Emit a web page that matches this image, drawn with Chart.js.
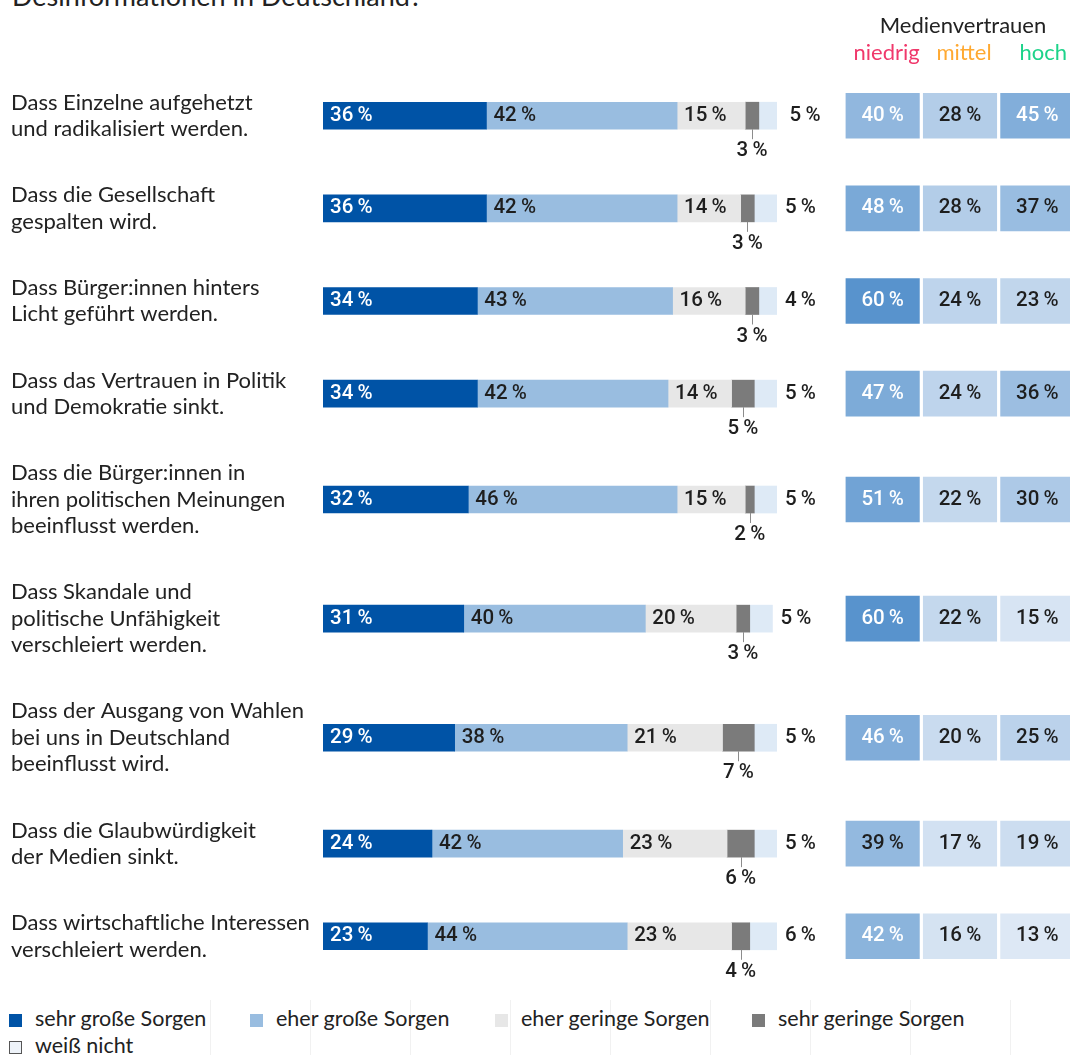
<!DOCTYPE html>
<html lang="de">
<head>
<meta charset="utf-8">
<script src="https://cdn.jsdelivr.net/npm/chart.js@4.4.1/dist/chart.umd.min.js"></script>
<style>
  html, body { margin: 0; padding: 0; background: #fff; }
  body { width: 1070px; height: 1055px; position: relative; overflow: hidden; font-family: Lato, 'Open Sans', sans-serif; color: #222; }
  #title { position: absolute; left: 12px; top: -20px; font-size: 27px; line-height: 32px; white-space: nowrap; }
  #wrapBars { position: absolute; left: 0; top: 0; width: 840px; height: 1000px; }
  #wrapTable { position: absolute; left: 844px; top: 0; width: 232px; height: 1000px; }
  .faint { position: absolute; top: 1000px; bottom: 0; left: 210px; width: 801px;
    background: repeating-linear-gradient(to right, #f1f1f1 0 1px, transparent 1px 100px); }
  .legend { position: absolute; font-size: 21.5px; line-height: 24px; white-space: nowrap; }
  .legend i { display: inline-block; width: 13px; height: 13px; margin-right: 13px; vertical-align: -1px; box-sizing: border-box; }
</style>
</head>
<body>
<div id="title">Desinformationen in Deutschland?</div>
<div id="wrapBars"><canvas id="bars"></canvas></div>
<div id="wrapTable"><canvas id="table"></canvas></div>
<div class="faint"></div>
<div id="legend"></div>
<script>
// ── Data ───────────────────────────────────────────────────────────────────────
const labels = [
  ['Dass Einzelne aufgehetzt', 'und radikalisiert werden.'],
  ['Dass die Gesellschaft', 'gespalten wird.'],
  ['Dass Bürger:innen hinters', 'Licht geführt werden.'],
  ['Dass das Vertrauen in Politik', 'und Demokratie sinkt.'],
  ['Dass die Bürger:innen in', 'ihren politischen Meinungen', 'beeinflusst werden.'],
  ['Dass Skandale und', 'politische Unfähigkeit', 'verschleiert werden.'],
  ['Dass der Ausgang von Wahlen', 'bei uns in Deutschland', 'beeinflusst wird.'],
  ['Dass die Glaubwürdigkeit', 'der Medien sinkt.'],
  ['Dass wirtschaftliche Interessen', 'verschleiert werden.']
];
const sehrGross  = [36, 36, 34, 34, 32, 31, 29, 24, 23];
const eherGross  = [42, 42, 43, 42, 46, 40, 38, 42, 44];
const eherGering = [15, 14, 16, 14, 15, 20, 21, 23, 23];
const sehrGering = [3, 3, 3, 5, 2, 3, 7, 6, 4];
const weissNicht = [5, 5, 4, 5, 5, 5, 5, 5, 6];

const vertrauenNiedrig = [40, 48, 60, 47, 51, 60, 46, 39, 42];
const vertrauenMittel  = [28, 28, 24, 24, 22, 22, 20, 17, 16];
const vertrauenHoch    = [45, 37, 23, 36, 30, 15, 25, 19, 13];

const seriesNames  = ['sehr große Sorgen', 'eher große Sorgen', 'eher geringe Sorgen', 'sehr geringe Sorgen', 'weiß nicht'];
const trustNames   = ['niedrig', 'mittel', 'hoch'];

// ── Style ──────────────────────────────────────────────────────────────────────
const C = {
  dark:   '#0053a6',
  mid:    '#99bde0',
  light:  '#e7e7e7',
  grey:   '#7b7b7b',
  pale:   '#deeaf6',
  text:   '#1e1e1e',
  label:  "Lato, 'Open Sans', sans-serif",
  num:    "Roboto, 'DejaVu Sans', sans-serif"
};
const trustColors = ['#f0386b', '#ffa931', '#1dd38a'];
const segColors = [C.dark, C.mid, C.light, C.grey, C.pale];
const pct = v => v + '\u2009%';
const NUM_FONT = `500 20.5px ${C.num}`;

// row positions in "text line" units: rows with more label lines get more room
const GAP = 1.5;
const rowPos = [];
labels.forEach((l, i) => {
  rowPos.push(i === 0 ? 0 : rowPos[i - 1] + (labels[i - 1].length + l.length) / 2 + GAP);
});
const yMin = -1.5, yMax = rowPos[rowPos.length - 1] + 1.5;
const LINE_H = 26.4;

const yScale = {
  type: 'linear', reverse: true, min: yMin, max: yMax, display: false,
  offset: false, grid: { offset: false }
};
const pad = { top: 76, bottom: 24 };

// ── Chart 1: stacked bars with labels ─────────────────────────────────────────
const barLabels = {
  id: 'barLabels',
  afterDatasetsDraw(chart) {
    const { ctx } = chart;
    const ys = chart.scales.y;
    ctx.save();
    // question labels on the left
    ctx.font = `22px ${C.label}`;
    ctx.fillStyle = '#222';
    ctx.textAlign = 'left';
    ctx.textBaseline = 'middle';
    labels.forEach((lines, i) => {
      const cy = ys.getPixelForValue(rowPos[i]);
      lines.forEach((t, k) => ctx.fillText(t, 11, cy + (k - (lines.length - 1) / 2) * LINE_H));
    });

    ctx.font = NUM_FONT;
    chart.data.datasets.forEach((ds, d) => {
      chart.getDatasetMeta(d).data.forEach((el, i) => {
        const v = ds.values[i];
        const { x, y, base, height } = el.getProps(['x', 'y', 'base', 'height'], true);
        const start = Math.min(x, base), end = Math.max(x, base);
        if (d === 3) {
          const mid = (start + end) / 2;
          const bottom = y + height / 2;
          ctx.strokeStyle = '#8c8c8c';
          ctx.lineWidth = 1;
          ctx.beginPath();
          ctx.moveTo(Math.round(mid) + 0.5, bottom);
          ctx.lineTo(Math.round(mid) + 0.5, bottom + 10);
          ctx.stroke();
          ctx.fillStyle = C.text;
          ctx.textAlign = 'center';
          ctx.fillText(pct(v), mid, bottom + 22);
        } else if (d === 4) {
          ctx.fillStyle = C.text;
          ctx.textAlign = 'left';
          ctx.fillText(pct(v), end + 8, y);
        } else {
          ctx.fillStyle = d === 0 ? '#fff' : C.text;
          ctx.textAlign = 'left';
          ctx.fillText(pct(v), start + 7, y);
        }
      });
    });
    ctx.restore();
  }
};

new Chart(document.getElementById('bars'), {
  type: 'bar',
  data: {
    datasets: [sehrGross, eherGross, eherGering, sehrGering, weissNicht].map((arr, d) => ({
      label: seriesNames[d],
      values: arr,
      data: arr.map((v, i) => ({ x: v, y: rowPos[i] })),
      backgroundColor: segColors[d],
      borderWidth: 0,
      barThickness: 27
    }))
  },
  options: {
    indexAxis: 'y',
    responsive: true, maintainAspectRatio: false,
    animation: false,
    layout: { padding: { left: 323, right: 63, top: pad.top, bottom: pad.bottom } },
    plugins: { legend: { display: false }, tooltip: { enabled: false } },
    scales: {
      x: { type: 'linear', min: 0, max: 100, stacked: true, display: false },
      y: Object.assign({}, yScale, { stacked: true })
    }
  },
  plugins: [barLabels]
});

// ── Chart 2: media trust cells ────────────────────────────────────────────────
const CELL_GAP = 0.025;
function cellColor(v) {
  // shade from pale to medium blue by value
  const lo = [221, 232, 245], hi = [88, 147, 205];
  const t = Math.max(0, Math.min(1, (v - 13) / 47));
  const c = lo.map((a, k) => Math.round(a + (hi[k] - a) * t));
  return `rgb(${c.join(',')})`;
}

const cellLabels = {
  id: 'cellLabels',
  afterDatasetsDraw(chart) {
    const { ctx } = chart;
    const xs = chart.scales.x;
    ctx.save();
    ctx.textBaseline = 'middle';
    ctx.textAlign = 'center';
    ctx.font = `22px ${C.label}`;
    ctx.fillStyle = '#222';
    ctx.fillText('Medienvertrauen', xs.getPixelForValue(1.5) + 3, 26);
    trustNames.forEach((n, c) => {
      ctx.fillStyle = trustColors[c];
      ctx.fillText(n, xs.getPixelForValue(c + 0.5) + (c === 2 ? 6 : 4), 53);
    });
    ctx.font = NUM_FONT;
    chart.data.datasets.forEach((ds, d) => {
      chart.getDatasetMeta(d).data.forEach((el, i) => {
        const v = ds.values[i];
        ctx.fillStyle = v >= 40 ? '#fff' : C.text;
        ctx.fillText(pct(v), xs.getPixelForValue(d + 0.5), el.y);
      });
    });
    ctx.restore();
  }
};

new Chart(document.getElementById('table'), {
  type: 'bar',
  data: {
    datasets: [vertrauenNiedrig, vertrauenMittel, vertrauenHoch].map((arr, c) => ({
      label: trustNames[c],
      values: arr,
      data: arr.map((v, i) => ({ x: [c + CELL_GAP, c + 1 - CELL_GAP], y: rowPos[i] })),
      backgroundColor: arr.map(cellColor),
      borderWidth: 0,
      barThickness: 45,
      grouped: false
    }))
  },
  options: {
    indexAxis: 'y',
    responsive: true, maintainAspectRatio: false,
    animation: false,
    layout: { padding: { left: 0, right: 0, top: pad.top, bottom: pad.bottom } },
    plugins: { legend: { display: false }, tooltip: { enabled: false } },
    scales: {
      x: { type: 'linear', min: 0, max: 3, display: false },
      y: yScale
    }
  },
  plugins: [cellLabels]
});

// ── Legend ─────────────────────────────────────────────────────────────────────
const legendPos = [[9, 1006], [250, 1006], [495, 1006], [752, 1006], [9, 1033]];
const legendEl = document.getElementById('legend');
seriesNames.forEach((n, d) => {
  const item = document.createElement('div');
  item.className = 'legend';
  item.style.left = legendPos[d][0] + 'px';
  item.style.top = legendPos[d][1] + 'px';
  const sw = document.createElement('i');
  sw.style.background = segColors[d];
  if (d === 4) { sw.style.background = '#eef3f9'; sw.style.border = '1px solid #555'; }
  item.appendChild(sw);
  item.appendChild(document.createTextNode(n));
  legendEl.appendChild(item);
});
</script>
</body>
</html>
